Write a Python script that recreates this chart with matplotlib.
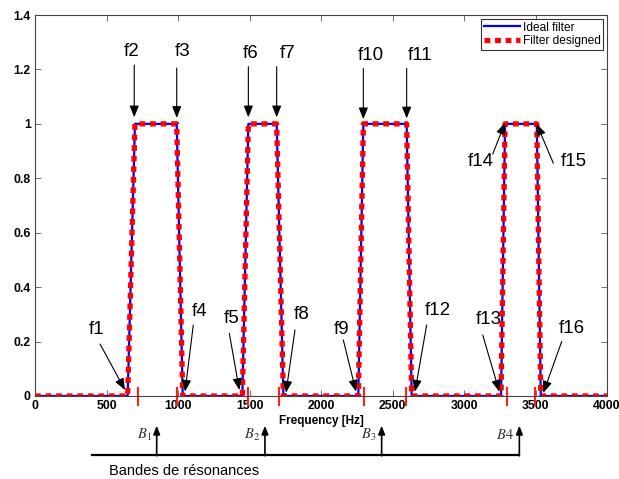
import numpy as np
import matplotlib.pyplot as plt
import matplotlib.transforms as mtransforms

plt.rcParams['font.family'] = ['Liberation Sans', 'DejaVu Sans']
plt.rcParams['mathtext.fontset'] = 'stix'

# Gabarit du filtre
freq_ideal = [0, 648, 699, 991, 1033, 1450, 1492, 1690, 1737,
              2261, 2296, 2599, 2634, 3259, 3287, 3509, 3537, 4000]
gain_ideal = [0, 0, 1, 1, 0, 0, 1, 1, 0, 0, 1, 1, 0, 0, 1, 1, 0, 0]
freq_designed = [0, 648, 699, 991, 1033, 1450, 1492, 1690, 1737,
                 2261, 2296, 2599, 2634, 3259, 3287, 3509, 3537, 4000]
gain_designed = [0, 0, 1, 1, 0, 0, 1, 1, 0, 0, 1, 1, 0, 0, 1, 1, 0, 0]

# Repères rouges sur l'axe des fréquences
edge_marks = [718, 991, 1492, 1708, 2301, 2594, 3303, 3497]

# Bandes de résonance
band_centers = [851, 1608, 2424, 3387]
band_labels = ['$B_1$', '$B_2$', '$B_3$', '$B4$']
bracket_start = 396

# Annotations : (texte, position texte, queue flèche, pointe flèche)
annotations = [
    ('f1', (431, 0.243), (455, 0.191), (629, 0.022)),
    ('f2', (676, 1.265), (694, 1.216), (694, 1.024)),
    ('f3', (1033, 1.265), (991, 1.205), (991, 1.022)),
    ('f4', (1154, 0.310), (1107, 0.261), (1049, 0.016)),
    ('f5', (1376, 0.286), (1359, 0.230), (1429, 0.022)),
    ('f6', (1508, 1.257), (1492, 1.210), (1492, 1.024)),
    ('f7', (1764, 1.259), (1690, 1.210), (1690, 1.024)),
    ('f8', (1865, 0.298), (1818, 0.243), (1755, 0.012)),
    ('f9', (2145, 0.245), (2156, 0.206), (2245, 0.016)),
    ('f10', (2350, 1.253), (2296, 1.204), (2296, 1.017)),
    ('f11', (2692, 1.253), (2599, 1.204), (2599, 1.020)),
    ('f12', (2820, 0.316), (2739, 0.261), (2657, 0.016)),
    ('f13', (3170, 0.282), (3131, 0.224), (3247, 0.016)),
    ('f14', (3119, 0.861), (3201, 0.889), (3287, 1.004)),
    ('f15', (3769, 0.861), (3625, 0.855), (3508, 1.000)),
    ('f16', (3753, 0.249), (3683, 0.200), (3555, 0.012)),
]

fig = plt.figure(figsize=(6.19, 4.79), dpi=100)
ax = fig.add_axes([35 / 619, 83 / 479, 572 / 619, 381 / 479])

ax.plot(freq_ideal, gain_ideal, color='#0000ff', lw=1.6, label='Ideal filter')
ax.plot(freq_designed, gain_designed, color='#ff0000', lw=3.8,
        linestyle=(0, (1.1, 0.9)), label='Filter designed')

ax.set_xlim(0, 4000)
ax.set_ylim(0, 1.4)
ax.set_xticks(np.arange(0, 4001, 500))
ax.set_yticks(np.arange(0, 1.41, 0.2))
ax.yaxis.set_major_formatter(plt.FormatStrFormatter('%g'))
ax.tick_params(direction='in', length=4, width=0.6, color='#555555',
               top=True, right=True, labelsize=8.8, pad=3)
for lab in ax.get_xticklabels() + ax.get_yticklabels():
    lab.set_fontweight('bold')
for sp in ax.spines.values():
    sp.set_color('#444444')
    sp.set_linewidth(0.8)
ax.set_xlabel('Frequency [Hz]', fontsize=8.5, fontweight='bold', labelpad=2)

leg = ax.legend(loc='upper right', fontsize=8.6, fancybox=False, framealpha=1,
                edgecolor='#333333', borderaxespad=0.3, handlelength=3.0,
                handletextpad=0.2, borderpad=0.25, labelspacing=0.1)
leg.get_frame().set_linewidth(0.8)

# Repères rouges
blend = mtransforms.blended_transform_factory(ax.transData, ax.transAxes)
for m in edge_marks:
    ax.plot([m, m], [-0.024, 0.021], color='#ff2020', lw=1.5,
            transform=blend, clip_on=False)

# Flèches f1..f16
for name, txt, tail, tip in annotations:
    ax.annotate('', xy=tip, xytext=tail,
                arrowprops=dict(arrowstyle='-|>,head_length=0.7,head_width=0.28',
                                color='black', lw=0.8, shrinkA=0, shrinkB=0))
    ax.text(txt[0], txt[1], name, fontsize=13.5, ha='center', va='center')

# Bandes de résonances
ax.plot([bracket_start, band_centers[-1]], [-0.155, -0.155], color='black',
        lw=1.6, transform=blend, clip_on=False)
for b, lab in zip(band_centers, band_labels):
    ax.annotate('', xy=(b, -0.078), xytext=(b, -0.157), xycoords=blend,
                textcoords=blend,
                arrowprops=dict(arrowstyle='-|>,head_length=0.5,head_width=0.2',
                                color='black', lw=1.2, shrinkA=0, shrinkB=0))
    ax.text(b - 35, -0.102, lab, transform=blend, ha='right', va='center',
            fontsize=10.5, color='#333333')
ax.text(1040, -0.198, 'Bandes de résonances', transform=blend, ha='center',
        va='center', fontsize=10.5)

fig.savefig('out.png', dpi=100)
